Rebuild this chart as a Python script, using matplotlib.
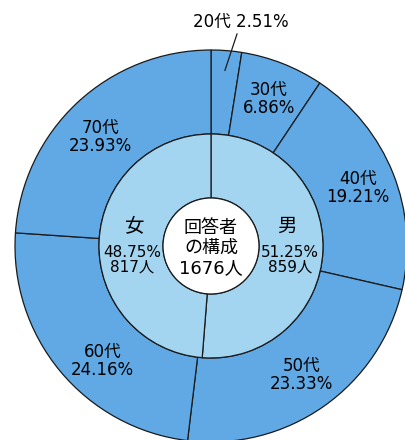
import numpy as np
import matplotlib.pyplot as plt

plt.rcParams['font.family'] = ['DejaVu Sans', 'Noto Sans CJK JP']

# outer ring: age groups (clockwise from 12 o'clock)
ages = ['20代', '30代', '40代', '50代', '60代', '70代']
age_pct = [2.51, 6.86, 19.21, 23.33, 24.16, 23.93]

# inner ring: gender
genders = ['男', '女']
gender_pct = [51.25, 48.75]
gender_cnt = [859, 817]

total = 1676

outer_col = '#60a9e5'
inner_col = '#a3d5f0'
edge = '#1a1a1a'

R_OUT, R_IN, R_HOLE = 196, 112, 48

fig = plt.figure(figsize=(4.06, 4.40), dpi=100)
ax = fig.add_axes([0, 0, 1, 1])

wp = dict(edgecolor=edge, linewidth=0.9)
w_out, _ = ax.pie(age_pct, radius=R_OUT, startangle=90, counterclock=False,
                  colors=[outer_col] * len(ages), wedgeprops=dict(width=R_OUT - R_IN, **wp))
w_in, _ = ax.pie(gender_pct, radius=R_IN, startangle=90, counterclock=False,
                 colors=[inner_col] * 2, wedgeprops=dict(width=R_IN - R_HOLE, **wp))
ax.add_patch(plt.Circle((0, 0), R_HOLE, facecolor='white', edgecolor=edge, linewidth=0.9))

# pie() resets the limits, so set them afterwards
ax.set_xlim(-211, 195)
ax.set_ylim(-194, 246)
ax.set_aspect('equal')
ax.axis('off')


def mid(w):
    return np.deg2rad((w.theta1 + w.theta2) / 2)


fs = 12
for i, w in enumerate(w_out):
    a = mid(w)
    txt = f'{ages[i]}\n{age_pct[i]:.2f}%'
    if i == 0:
        # small slice: label outside with a leader line
        ax.annotate(f'{ages[i]} {age_pct[i]:.2f}%', xy=(176 * np.cos(a), 176 * np.sin(a)),
                    xytext=(30, 224), ha='center', va='center', fontsize=fs,
                    arrowprops=dict(arrowstyle='-', color=edge, lw=0.9, shrinkA=0, shrinkB=0))
        continue
    r = 158
    if i == 4:
        a += np.deg2rad(7)
    if i == 5:
        a += np.deg2rad(2.3)
        r = 155
    ax.text(r * np.cos(a), r * np.sin(a), txt, ha='center', va='center',
            fontsize=fs, linespacing=1.0)

for i, w in enumerate(w_in):
    x = 79 * np.cos(mid(w))
    ax.text(x - 3 * np.sign(x), 20, genders[i], ha='center', va='center', fontsize=14)
    ax.text(x, -14, f'{gender_pct[i]:.2f}%\n{gender_cnt[i]}人', ha='center', va='center',
            fontsize=11, linespacing=0.95)

ax.text(0, -2, f'回答者\nの構成\n{total}人', ha='center', va='center', fontsize=13,
        linespacing=1.15)

fig.savefig('out.png', dpi=100)
